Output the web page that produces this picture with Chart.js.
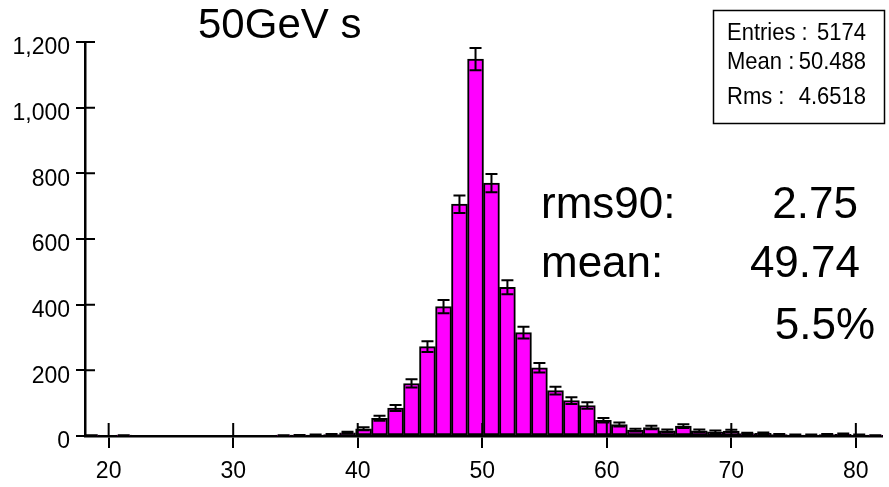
<!DOCTYPE html>
<html>
<head>
<meta charset="utf-8">
<script src="https://cdn.jsdelivr.net/npm/chart.js@4.4.0/dist/chart.umd.min.js"></script>
<style>
  html, body { margin: 0; padding: 0; background: #fff; }
  #wrap { width: 889px; height: 487px; }
</style>
</head>
<body>
<div id="wrap"><canvas id="h_energy"></canvas></div>
<script>
const binCenters = [18.64, 19.92, 21.21, 22.49, 23.78, 25.06, 26.34, 27.63, 28.91, 30.20,
                    31.48, 32.76, 34.05, 35.33, 36.62, 37.90, 39.18, 40.47, 41.75, 43.04,
                    44.32, 45.60, 46.89, 48.17, 49.46, 50.74, 52.02, 53.31, 54.59, 55.88,
                    57.16, 58.44, 59.73, 61.01, 62.30, 63.58, 64.86, 66.15, 67.43, 68.72,
                    70.00, 71.28, 72.57, 73.85, 75.14, 76.42, 77.70, 78.99, 80.27, 81.56];
const binCounts = [1, 0, 1, 0, 0, 0, 0, 0, 0, 0,
                   0, 0, 1, 2, 3, 4, 10, 22, 54, 85,
                   160, 272, 394, 706, 1148, 770, 453, 315, 208, 138,
                   108, 93, 48, 35, 18, 26, 16, 30, 16, 13,
                   15, 7, 8, 4, 3, 3, 4, 5, 3, 1];
const xTicks = [20, 30, 40, 50, 60, 70, 80];
const yTicks = [0, 200, 400, 600, 800, 1000, 1200];

// texts
const title = '50GeV s';
const statLabels = ['Entries :', 'Mean :', 'Rms :'];
const statValues = ['5174', '50.488', '4.6518'];
const fitLabels = ['rms90:', 'mean:', ''];
const fitValues = ['2.75', '49.74', '5.5%'];

const FONT = "'Liberation Sans', Arial, sans-serif";

// error bars sqrt(N) drawn on top of the bars
const errorBars = {
    id: 'errorBars',
    afterDatasetsDraw(chart) {
        const ctx = chart.ctx;
        const xs = chart.scales.x, ys = chart.scales.y;
        ctx.save();
        ctx.strokeStyle = '#000';
        ctx.lineWidth = 2;
        for (let i = 0; i < binCounts.length; i++) {
            const n = binCounts[i];
            if (n <= 0) continue;
            const err = Math.sqrt(n);
            const px = xs.getPixelForValue(binCenters[i]);
            const top = ys.getPixelForValue(n + err);
            const bot = ys.getPixelForValue(Math.max(n - err, 0));
            ctx.beginPath();
            ctx.moveTo(px, top); ctx.lineTo(px, bot);
            ctx.moveTo(px - 6, top); ctx.lineTo(px + 6, top);
            ctx.moveTo(px - 6, bot); ctx.lineTo(px + 6, bot);
            ctx.stroke();
        }
        ctx.restore();
    }
};

// small helper : text a bit taller than wide, like the original picture
function tallText(ctx, txt, x, y) {
    ctx.save();
    ctx.translate(x, y);
    ctx.scale(1, 1.1);
    ctx.fillText(txt, 0, 0);
    ctx.restore();
}

// tick marks inside the frame + title, stats box and the big labels
const decorations = {
    id: 'decorations',
    afterDraw(chart) {
        const ctx = chart.ctx;
        const xs = chart.scales.x, ys = chart.scales.y;
        const area = chart.chartArea;
        ctx.save();
        ctx.strokeStyle = '#000';
        ctx.lineWidth = 2;
        ctx.beginPath();
        ys.ticks.forEach(t => {
            const py = ys.getPixelForValue(t.value);
            ctx.moveTo(area.left, py); ctx.lineTo(area.left + 10, py);
        });
        xs.ticks.forEach(t => {
            const px = xs.getPixelForValue(t.value);
            ctx.moveTo(px, area.bottom); ctx.lineTo(px, area.bottom - 13);
        });
        ctx.stroke();

        ctx.fillStyle = '#000';
        ctx.textBaseline = 'alphabetic';
        // title
        ctx.font = '42px ' + FONT;
        ctx.textAlign = 'left';
        ctx.fillText(title, 198, 38);

        // stats box
        ctx.lineWidth = 1.5;
        ctx.strokeRect(713.5, 10.5, 171, 113);
        ctx.font = '22px ' + FONT;
        const rows = [40, 69, 104];
        for (let i = 0; i < statLabels.length; i++) {
            ctx.textAlign = 'left';
            tallText(ctx, statLabels[i], 727, rows[i]);
            ctx.textAlign = 'right';
            tallText(ctx, statValues[i], 866, rows[i]);
        }

        // rms90 / mean / resolution
        ctx.font = '44px ' + FONT;
        const lines = [218, 277, 339];
        const rights = [858, 860, 875];
        for (let i = 0; i < fitValues.length; i++) {
            ctx.textAlign = 'left';
            ctx.fillText(fitLabels[i], 541, lines[i]);
            ctx.textAlign = 'right';
            ctx.fillText(fitValues[i], rights[i], lines[i]);
        }
        ctx.restore();
    }
};

function drawHisto() {
    let context = document.getElementById('h_energy').getContext('2d');
    let data = {
        datasets: [{
            data: binCenters.map((c, i) => ({ x: c, y: binCounts[i] })),
            backgroundColor: '#ff00ff',
            borderColor: '#000',
            borderWidth: 2,
            borderSkipped: false,
            barPercentage: 1,
            categoryPercentage: 1
        }]
    };
    let options = {
        responsive: true,
        maintainAspectRatio: false,
        animation: false,
        layout: { padding: { top: 42, right: 7, left: 0, bottom: 0 } },
        plugins: {
            legend: { display: false },
            tooltip: { enabled: false }
        },
        scales: {
            x: {
                type: 'linear',
                offset: false,
                min: 18.1,
                max: 82.1,
                afterFit(s) { s.height = 51; },
                afterBuildTicks(s) { s.ticks = xTicks.map(v => ({ value: v })); },
                grid: { offset: false, drawOnChartArea: false, drawTicks: true, tickLength: 12, color: '#000', lineWidth: 2 },
                border: { display: true, color: '#000', width: 2.5 },
                ticks: { color: '#000', font: { family: FONT, size: 23 }, padding: 10, maxRotation: 0 }
            },
            y: {
                min: 0,
                max: 1200,
                afterFit(s) { s.width = 85; },
                afterBuildTicks(s) { s.ticks = yTicks.map(v => ({ value: v })); },
                grid: { drawOnChartArea: false, drawTicks: true, tickLength: 9, color: '#000', lineWidth: 2 },
                border: { display: true, color: '#000', width: 2.5 },
                ticks: { color: '#000', font: { family: FONT, size: 23 }, padding: 6, labelOffset: 6 }
            }
        }
    };
    new Chart(context, { type: 'bar', data: data, options: options, plugins: [errorBars, decorations] });
}

window.addEventListener('load', () => {
    drawHisto();
});
</script>
</body>
</html>
